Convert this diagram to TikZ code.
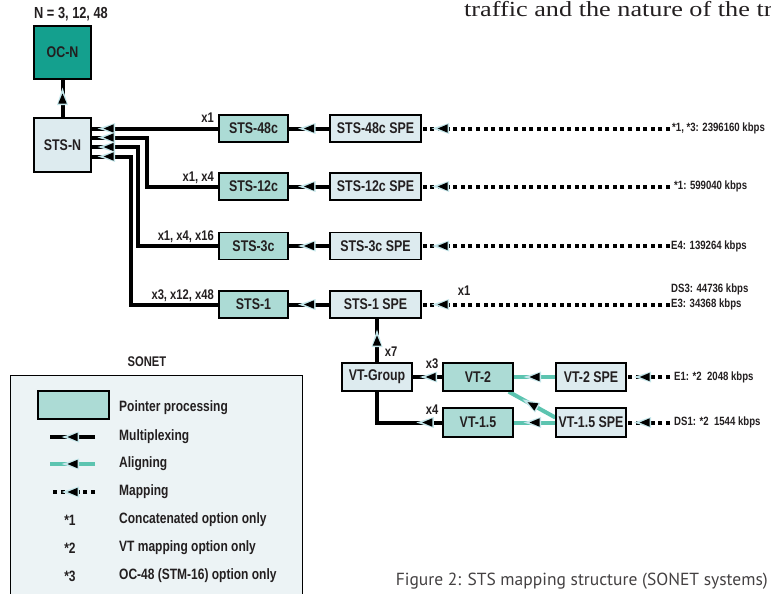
\documentclass[tikz,border=0pt]{standalone}
\usepackage{fontspec}
\newfontfamily\cond{Liberation Sans Bold}[FakeStretch=0.8]
\newfontfamily\capfont{PT Sans}
\newfontfamily\serifx{Liberation Serif}[FakeStretch=1.22]
\usetikzlibrary{decorations.markings,calc,backgrounds}
\definecolor{darkteal}{RGB}{20,160,142}
\definecolor{ptrfill}{RGB}{172,219,213}
\definecolor{lightfill}{RGB}{221,235,239}
\definecolor{legbg}{RGB}{236,243,245}
\definecolor{alncol}{RGB}{92,196,176}
\definecolor{halo}{RGB}{196,230,234}
\definecolor{txt}{RGB}{35,31,32}
\newcommand\arrmark{%
  \fill[halo] (11pt,0pt) -- (-6.5pt,5.5pt) -- (-6.5pt,-5.5pt) -- cycle;
  \fill[black] (5pt,0pt) -- (-5pt,4.2pt) -- (-5pt,-4.2pt) -- cycle;}
\tikzset{
  markat/.style={postaction={decorate,decoration={markings,mark=at position #1 with {\arrmark}}}},
  mux/.style={draw=black,line width=4pt,markat=#1}, mux/.default=0.5,
  aln/.style={draw=alncol,line width=4pt,markat=#1}, aln/.default=0.5,
  mapl/.style={draw=black,line width=4pt,dash pattern=on 4pt off 3.6pt,markat=#1}, mapl/.default=0.5,
  box/.style={draw=black,line width=1.4pt,font=\cond\fontsize{15.5}{17}\selectfont,text=txt,inner sep=0pt},
  pbox/.style={box,fill=ptrfill},
  lbox/.style={box,fill=lightfill},
  dbox/.style={box,fill=darkteal},
  lab/.style={font=\cond\fontsize{14}{16}\selectfont,text=txt,inner sep=0pt},
  rlab/.style={font=\cond\fontsize{12}{14}\selectfont,text=txt,inner sep=0pt,anchor=west},
  legt/.style={font=\cond\fontsize{15}{17}\selectfont,text=txt,inner sep=0pt,anchor=west},
}
\begin{document}
\begin{tikzpicture}[x=1pt,y=-1pt]
\useasboundingbox (0,0) rectangle (771,594);
\clip (0,0) rectangle (771,594);

% stray page text
\node[anchor=base west,font=\serifx\fontsize{21.5}{24}\selectfont,text=txt,inner sep=0pt] (toptext) at (464,17) {traffic and the nature of the tr};

% top-left
\node[lab,anchor=west,font=\cond\fontsize{16}{18}\selectfont] (nlab) at (34,14) {N = 3, 12, 48};
\node[dbox,minimum width=57pt,minimum height=53pt] (ocn) at (62.5,52.5) {OC-N};
\node[lbox,minimum width=57pt,minimum height=54pt] (stsn) at (62.5,145) {STS-N};

% STS column
\node[pbox,minimum width=69pt,minimum height=27pt] (s48) at (253.5,128.5) {STS-48c};
\node[pbox,minimum width=69pt,minimum height=27pt] (s12) at (253.5,186.5) {STS-12c};
\node[pbox,minimum width=69pt,minimum height=27pt] (s3) at (253.5,246) {STS-3c};
\node[pbox,minimum width=69pt,minimum height=27pt] (s1) at (253.5,304.5) {STS-1};

\node[lbox,minimum width=91pt,minimum height=27pt] (spe48) at (375.5,128.5) {STS-48c SPE};
\node[lbox,minimum width=91pt,minimum height=27pt] (spe12) at (375.5,186.5) {STS-12c SPE};
\node[lbox,minimum width=91pt,minimum height=27pt] (spe3) at (375.5,246) {STS-3c SPE};
\node[lbox,minimum width=91pt,minimum height=27pt] (spe1) at (375.5,304.5) {STS-1 SPE};

% VT section
\node[lbox,minimum width=70pt,minimum height=28pt] (vtg) at (377,377) {VT-Group};
\node[pbox,minimum width=70pt,minimum height=28pt] (vt2) at (478,377) {VT-2};
\node[lbox,minimum width=70pt,minimum height=28pt] (vt2spe) at (591,377) {VT-2 SPE};
\node[pbox,minimum width=70pt,minimum height=29pt] (vt15) at (478,422.5) {VT-1.5};
\node[lbox,minimum width=70pt,minimum height=29pt] (vt15spe) at (591,422.5) {VT-1.5 SPE};

% free ends of mapping lines
\coordinate (m48) at (670,128.5);
\coordinate (m12) at (670,186.5);
\coordinate (m3) at (670,246);
\coordinate (m1) at (670,304.5);
\coordinate (me1) at (670,377);
\coordinate (mds1) at (670,422.5);

\begin{scope}[on background layer]
  \draw[mux] (stsn.north) -- (ocn.south);
  \draw[mux=-17pt] (s48.west) -- (s48.west -| stsn.east);
  \draw[mux=-17pt] (s12.west) -| ($(stsn.east)+(55,-7.5)$) -- ($(stsn.east)+(0,-7.5)$);
  \draw[mux=-17pt] (s3.west) -| ($(stsn.east)+(46,2)$) -- ($(stsn.east)+(0,2)$);
  \draw[mux=-17pt] (s1.west) -| ($(stsn.east)+(39,11.5)$) -- ($(stsn.east)+(0,11.5)$);
  \draw[mux] (spe48.west) -- (s48.east);
  \draw[mux] (spe12.west) -- (s12.east);
  \draw[mux] (spe3.west) -- (s3.east);
  \draw[mux] (spe1.west) -- (s1.east);
  \draw[mapl=-21pt] (m48) -- (spe48.east);
  \draw[mapl=-21pt] (m12) -- (spe12.east);
  \draw[mapl=-21pt] (m3) -- (spe3.east);
  \draw[mapl=-21pt] (m1) -- (spe1.east);
  \draw[mux] (vtg.north) -- (vtg.north |- spe1.south);
  \draw[mux=-18pt] (vt2.west) -- (vtg.east);
  \draw[mux=15pt] (vt15.west) -| (vtg.south);
  \draw[aln] (vt2spe.west) -- (vt2.east);
  \draw[aln] (vt15spe.west) -- (vt15.east);
  \draw[aln] ([yshift=5pt]vt15spe.west) -- ([xshift=-5pt]vt2.south east);
  \draw[mapl=-18pt] (me1) -- (vt2spe.east);
  \draw[mapl=-18pt] (mds1) -- (vt15spe.east);
\end{scope}

% multiplicity labels
\node[lab,anchor=base east] (l48) at (214,122.5) {x1};
\node[lab,anchor=base east] (l12) at (214,181) {x1, x4};
\node[lab,anchor=base east] (l3) at (214,240.5) {x1, x4, x16};
\node[lab,anchor=base east] (l1) at (214,299) {x3, x12, x48};
\node[lab] (lx1) at (464,291) {x1};
\node[lab] (lx7) at (391,352) {x7};
\node[lab] (lx3) at (432,364) {x3};
\node[lab] (lx4) at (432,410) {x4};

% rate labels
\node[rlab] (r48) at (672,128) {*1, *3: 2396160 kbps};
\node[rlab] (r12) at (674,186) {*1: 599040 kbps};
\node[rlab] (r3) at (671,246) {E4: 139264 kbps};
\node[rlab] (rds3) at (671,289) {DS3: 44736 kbps};
\node[rlab] (re3) at (671,304) {E3: 34368 kbps};
\node[rlab] (re1) at (674,377) {E1: *2\ \ 2048 kbps};
\node[rlab] (rds1) at (674,422) {DS1: *2\ \ 1544 kbps};

% legend
\node[lab,font=\cond\fontsize{14}{16}\selectfont] (sonet) at (147,362) {SONET};
\node[draw=black,line width=1.4pt,fill=legbg,minimum width=292pt,minimum height=240pt,anchor=north west,inner sep=0pt] (leg) at (10,375) {};
\node[pbox,minimum width=71pt,minimum height=28pt] (legp) at (73.5,405) {};
\coordinate (lm1) at (95,437); \coordinate (lm2) at (50,437);
\coordinate (la1) at (95,464); \coordinate (la2) at (50,464);
\coordinate (lp1) at (95,492); \coordinate (lp2) at (50,492);
\draw[mux] (lm1) -- (lm2);
\draw[aln] (la1) -- (la2);
\draw[mapl] (lp1) -- (lp2);
\node[legt] (t1) at (119,408) {Pointer processing};
\node[legt] (t2) at (119,437) {Multiplexing};
\node[legt] (t3) at (119,464) {Aligning};
\node[legt] (t4) at (119,492) {Mapping};
\node[legt] (t5) at (119,520) {Concatenated option only};
\node[legt] (t6) at (119,548) {VT mapping option only};
\node[legt] (t7) at (119,576) {OC-48 (STM-16) option only};
\node[lab,font=\cond\fontsize{15}{17}\selectfont] (n1) at (70,520) {*1};
\node[lab,font=\cond\fontsize{15}{17}\selectfont] (n2) at (70,548) {*2};
\node[lab,font=\cond\fontsize{15}{17}\selectfont] (n3) at (70,576) {*3};

% caption
\node[anchor=base east,font=\capfont\fontsize{17.5}{20}\selectfont,text=txt!85,inner sep=0pt] (cap) at (768,585) {Figure 2: STS mapping structure (SONET systems)};
\end{tikzpicture}
\end{document}
